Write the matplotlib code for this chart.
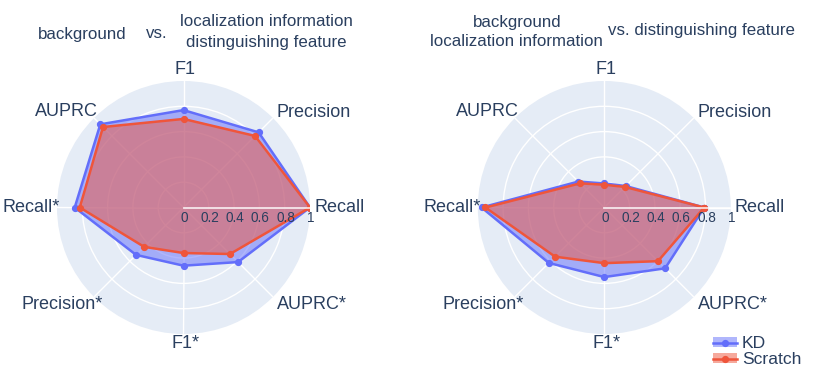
"""
Radar charts: KD vs Scratch for two feature splits
"""

import numpy as np
import matplotlib
matplotlib.use("Agg")
import matplotlib.pyplot as plt
from matplotlib.patches import Patch
from matplotlib.lines import Line2D

plt.rcParams["font.family"] = ["Liberation Sans", "DejaVu Sans"]

categories = ["Recall", "Precision", "F1", "AUPRC",
              "Recall*", "Precision*", "F1*", "AUPRC*"]

# left panel: background vs. localization information + distinguishing feature
kd_left      = [1.00, 0.84, 0.77, 0.93, 0.86, 0.53, 0.46, 0.61]
scratch_left = [1.00, 0.80, 0.70, 0.90, 0.82, 0.44, 0.36, 0.52]

# right panel: background + localization information vs. distinguishing feature
kd_right      = [0.79, 0.24, 0.19, 0.29, 0.97, 0.62, 0.55, 0.68]
scratch_right = [0.79, 0.23, 0.18, 0.27, 0.94, 0.55, 0.44, 0.60]

radial_ticks = [0, 0.2, 0.4, 0.6, 0.8, 1]
tick_text = ["0", "0.2", "0.4", "0.6", "0.8", "1"]

series_names = ["KD", "Scratch"]
colors = {"KD": "#636EFA", "Scratch": "#EF553B"}
txt_color = "#2a3f5f"
bg = "#E5ECF6"

W, H = 830, 373
fig = plt.figure(figsize=(W / 100, H / 100), dpi=100)

# label offsets in pixels from the outer edge (x, y, ha)
lab_off = {
    "Recall": (4, 0, "left"),
    "Precision": (4, 6, "left"),
    "F1": (2, 12, "center"),
    "AUPRC": (4, 7, "right"),
    "Recall*": (3, 0, "right"),
    "Precision*": (9, -8, "right"),
    "F1*": (2, -10, "center"),
    "AUPRC*": (4, -8, "left"),
}


def radar(cx, cy, R, kd, scratch):
    ax = fig.add_axes([(cx - R) / W, 1 - (cy + R) / H, 2 * R / W, 2 * R / H],
                      projection="polar")
    ax.set_facecolor(bg)
    ax.spines["polar"].set_visible(False)
    theta = np.deg2rad(np.arange(len(categories)) * 360 / len(categories))
    ax.set_thetagrids(np.rad2deg(theta), [""] * len(categories))
    ax.set_rgrids([0.2, 0.4, 0.6, 0.8], [""] * 4)
    ax.set_ylim(0, 1)
    ax.grid(True, color="white", linewidth=1.0)
    ax.set_axisbelow(True)

    th = np.append(theta, theta[0])
    for name, vals in zip(series_names, [kd, scratch]):
        v = np.append(vals, vals[0])
        ax.fill(th, v, color=colors[name], alpha=0.5, linewidth=0, zorder=2)
        ax.plot(th, v, color=colors[name], linewidth=1.8, marker="o",
                markersize=4.2, zorder=3)

    # radial axis line + tick labels
    ax.plot([0, 0], [0, 1], color="white", linewidth=1.3, alpha=0.8, zorder=4)
    for r, t in zip(radial_ticks, tick_text):
        ax.annotate(t, xy=(0, r), xytext=(1, -11), textcoords="offset pixels",
                    ha="center", va="center", fontsize=9.8, color=txt_color,
                    zorder=5, annotation_clip=False)

    for ang, lab in zip(theta, categories):
        dx, dy, ha = lab_off[lab]
        ax.annotate(lab, xy=(ang, 1.0), xytext=(dx, dy),
                    textcoords="offset pixels", ha=ha, va="center",
                    fontsize=13, color=txt_color, annotation_clip=False)
    return ax


radar(183.5, 207.5, 126.5, kd_left, scratch_left)
radar(604.3, 207.5, 126.5, kd_right, scratch_right)


def ftext(x, y, s):
    fig.text(x / W, 1 - y / H, s, ha="center", va="center",
             fontsize=12.2, color=txt_color)


# titles
ftext(82, 34, "background")
ftext(157, 34, "vs.")
ftext(266, 22, "localization information")
ftext(266, 42, "distinguishing feature")
ftext(517, 22, "background")
ftext(516, 42, "localization information")
ftext(701, 30, "vs. distinguishing feature")

handles = []
for name in series_names:
    handles.append((Patch(facecolor=colors[name], alpha=0.5, linewidth=0),
                    Line2D([], [], color=colors[name], linewidth=1.8,
                           marker="o", markersize=4.2)))
fig.legend(handles, series_names, loc="lower left",
           bbox_to_anchor=(713 / W, 0.016), frameon=False,
           fontsize=12.6, handlelength=1.35, handleheight=0.45,
           handletextpad=0.3, labelspacing=0.05, borderpad=0,
           borderaxespad=0, labelcolor=txt_color)

plt.savefig("out.png", dpi=100)
